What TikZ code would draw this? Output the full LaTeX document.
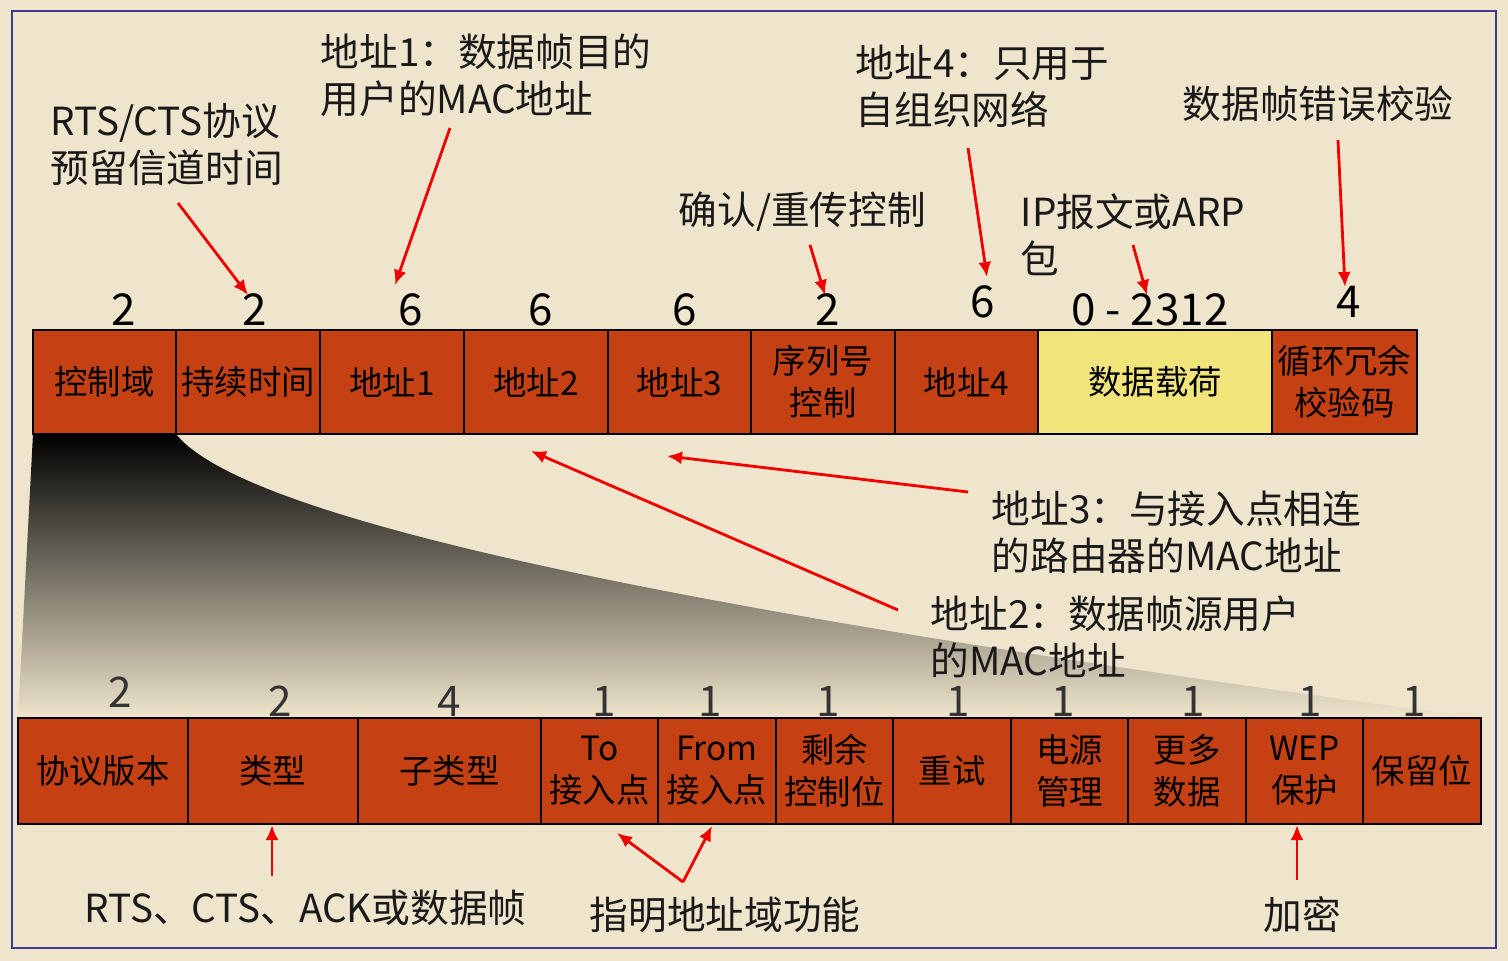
\documentclass[tikz,border=0pt]{standalone}
\usepackage{fontspec}
\setmainfont{Noto Sans CJK SC}
\usetikzlibrary{arrows.meta}
\tikzset{>={Latex[length=1.5mm,width=1.3mm]}}
\definecolor{paper}{HTML}{EFE5CC}
\definecolor{fieldred}{HTML}{C54012}
\definecolor{payload}{HTML}{F0E47A}
\definecolor{framecol}{HTML}{3C3C8A}
\definecolor{pointcol}{HTML}{F00000}

\begin{document}
\begin{tikzpicture}[x=0.01cm, y=-0.01cm]
    \tikzset{field/.style = {draw, line width=0.6pt, inner sep=0pt, align=center, font=\fontsize{9.5}{12}\selectfont},
             bits/.style = {inner sep=0pt, font=\fontsize{12.5}{14}\selectfont},
             note/.style = {align=left, inner sep=0pt, text=black!90, font=\fontsize{11}{13.4}\selectfont},
             pointer/.style = {->, pointcol, line width=0.8pt}}
    \useasboundingbox[fill=paper] (0, 0) rectangle (1508, 961);
    \draw[framecol, line width=0.4pt] (12, 11) rectangle (1496, 948);
    % wedge that opens the control field
    \shade[top color=black, bottom color=paper] (33, 434) -- (176, 434) .. controls (260, 540) and (900, 640) .. (1480, 718) -- (18, 718) -- cycle;
    % MAC frame
    \foreach \l/\r/\txt/\nx/\ny/\len/\col [count=\i] in {33/176/控制域/124/310/2/fieldred, 176/320/持续时间/255/310/2/fieldred,
            320/464/地址1/411/310/6/fieldred, 464/608/地址2/541/310/6/fieldred, 608/751/地址3/685/310/6/fieldred,
            751/895/{序列号\\控制}/828/310/2/fieldred, 895/1038/地址4/983/302/6/fieldred,
            1038/1272/数据载荷/1150/310/{0 - 2312}/payload, 1272/1417/{循环冗余\\校验码}/1349/302/4/fieldred} {
        \pgfmathsetmacro{\w}{(\r - \l)*0.01}
        \node[field, fill=\col, minimum width=\w cm, minimum height=1.04cm] (top\i) at ({(\l + \r)/2}, 382) {\txt};
        \node[bits] (tlen\i) at (\nx, \ny) {\len};
    }
    % frame control field
    \foreach \l/\r/\txt/\nx/\ny/\len [count=\i] in {18/188/协议版本/120/692/2, 188/358/类型/280/701/2, 358/541/子类型/449/701/4,
            541/658/{To\\接入点}/604/701/1, 658/776/{From\\接入点}/710/701/1, 776/893/{剩余\\控制位}/828/701/1,
            893/1011/重试/958/701/1, 1011/1128/{电源\\管理}/1063/701/1, 1128/1246/{更多\\数据}/1193/701/1,
            1246/1363/{WEP\\保护}/1310/701/1, 1363/1481/保留位/1414/701/1} {
        \pgfmathsetmacro{\w}{(\r - \l)*0.01}
        \node[field, fill=fieldred, minimum width=\w cm, minimum height=1.06cm] (bot\i) at ({(\l + \r)/2}, 771) {\txt};
        \node[bits, text=black!80, font=\fontsize{12}{14}\selectfont] (blen\i) at (\nx, \ny) {\len};
    }
    % notes
    \node[note, anchor=north west] (rts) at (50, 102) {RTS/CTS协议\\预留信道时间};
    \node[note, anchor=north west] (addra) at (320, 33) {地址1：数据帧目的\\用户的MAC地址};
    \node[note, anchor=west] (ack) at (678, 212) {确认/重传控制};
    \node[note, anchor=north west] (addrd) at (855, 44) {地址4：只用于\\自组织网络};
    \node[note, anchor=north west] (ip) at (1020, 193) {IP报文或ARP\\包};
    \node[note, anchor=west] (fcs) at (1182, 104) {数据帧错误校验};
    \node[note, anchor=north west] (addrc) at (991, 490) {地址3：与接入点相连\\的路由器的MAC地址};
    \node[note, anchor=north west] (addrb) at (930, 595) {地址2：数据帧源用户\\的MAC地址};
    \node[note, anchor=west] (kind) at (84, 908) {RTS、CTS、ACK或数据帧};
    \node[note, anchor=west] (ds) at (589, 915) {指明地址域功能};
    \node[note, anchor=west] (wep) at (1263, 915) {加密};
    % arrow ends
    \coordinate (rtsfrom) at (178, 203);  \coordinate (rtsto) at (248, 295);
    \coordinate (addrafrom) at (450, 128); \coordinate (addrato) at (395, 285);
    \coordinate (ackfrom) at (810, 245);  \coordinate (ackto) at (825, 295);
    \coordinate (addrdfrom) at (968, 148); \coordinate (addrdto) at (987, 277);
    \coordinate (ipfrom) at (1133, 245);  \coordinate (ipto) at (1147, 295);
    \coordinate (fcsfrom) at (1338, 140); \coordinate (fcsto) at (1345, 287);
    \coordinate (addrcfrom) at (968, 492); \coordinate (addrcto) at (667, 456);
    \coordinate (addrbfrom) at (898, 610); \coordinate (addrbto) at (531, 451);
    \coordinate (kindfrom) at (272, 876);
    \coordinate (dsfrom) at (683, 882);   \coordinate (tods) at (617, 833); \coordinate (fromds) at (712, 826);
    \coordinate (wepfrom) at (1297, 880);
    \draw[pointer] (rtsfrom) -- (rtsto);
    \draw[pointer] (addrafrom) -- (addrato);
    \draw[pointer] (ackfrom) -- (ackto);
    \draw[pointer] (addrdfrom) -- (addrdto);
    \draw[pointer] (ipfrom) -- (ipto);
    \draw[pointer] (fcsfrom) -- (fcsto);
    \draw[pointer] (addrcfrom) -- (addrcto);
    \draw[pointer] (addrbfrom) -- (addrbto);
    \draw[pointer] (kindfrom) -- (kindfrom |- bot2.south);
    \draw[pointer] (dsfrom) -- (tods);
    \draw[pointer] (dsfrom) -- (fromds);
    \draw[pointer] (wepfrom) -- (wepfrom |- bot10.south);
\end{tikzpicture}
\end{document}
